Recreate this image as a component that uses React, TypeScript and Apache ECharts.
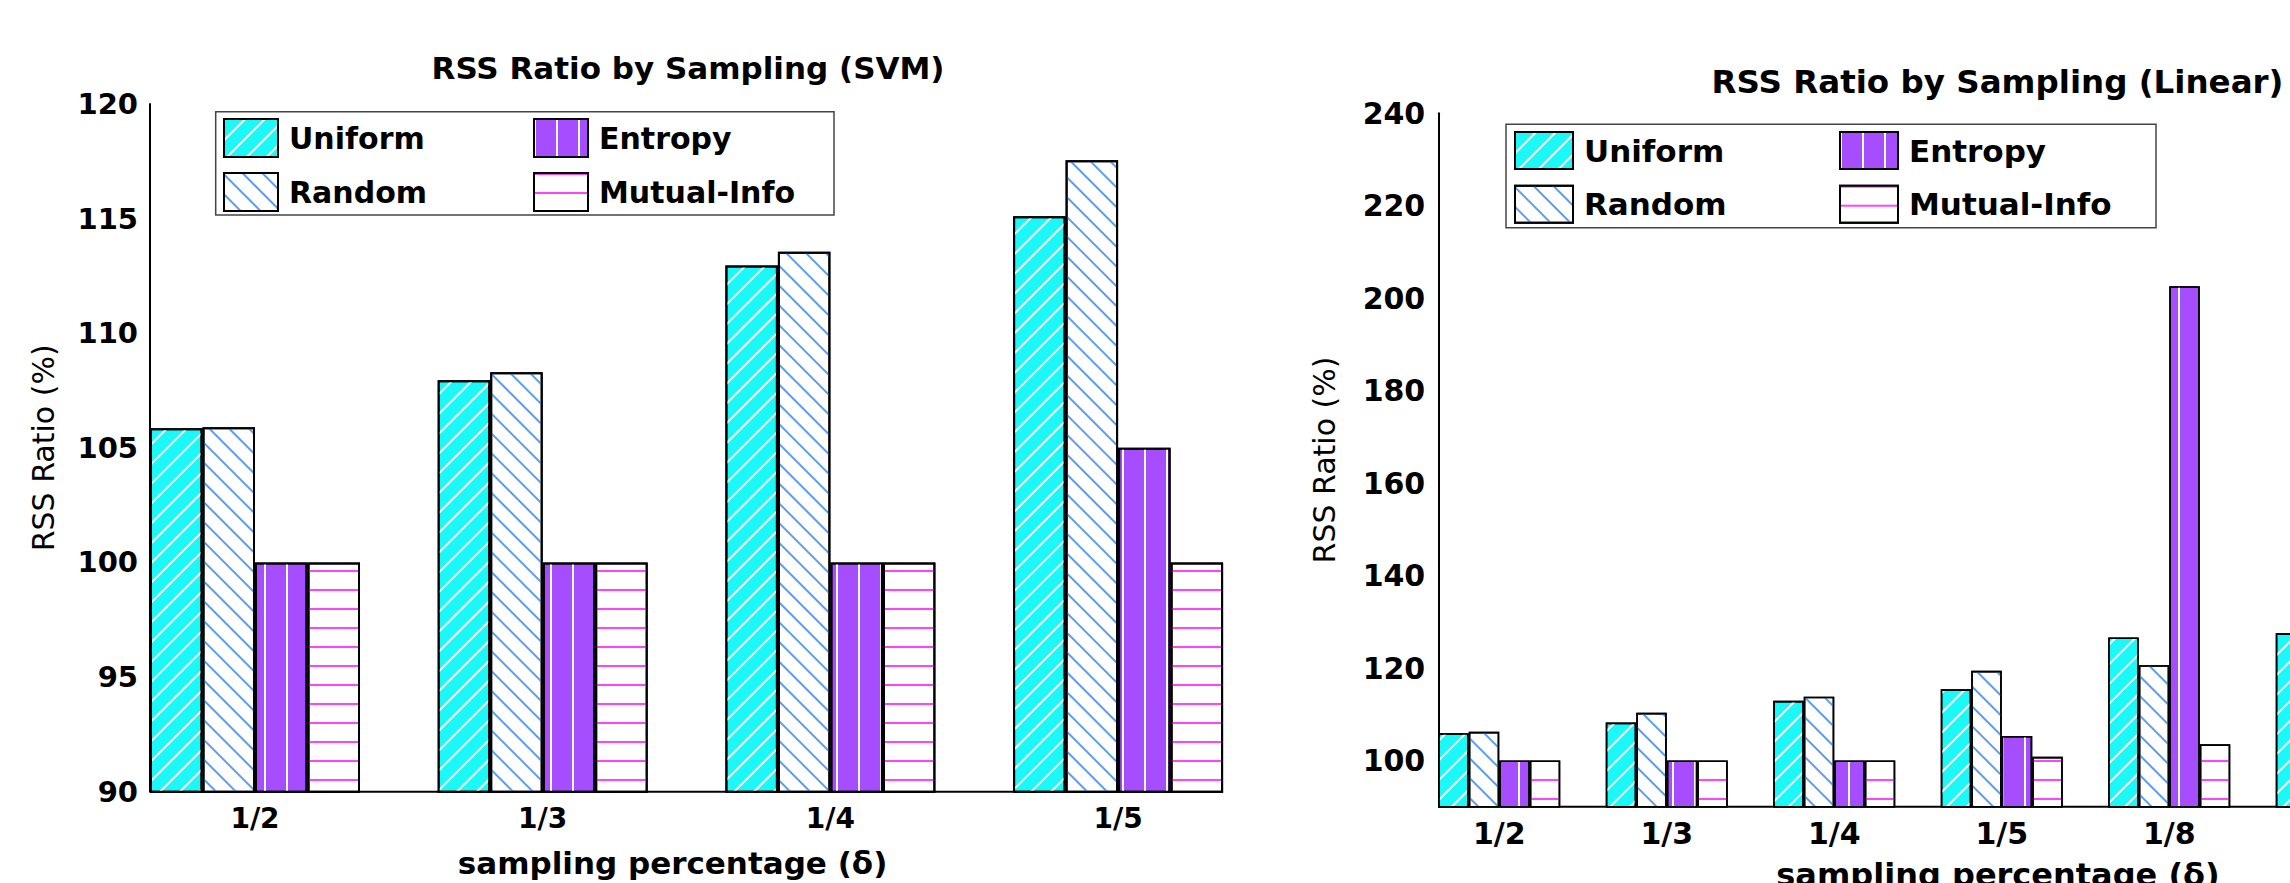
import React, { useEffect, useRef } from 'react';
import * as echarts from 'echarts';

// ---------- data ----------
const svmCategories = ['1/2', '1/3', '1/4', '1/5'];
const svmUniform = [105.85, 107.95, 112.95, 115.1];
const svmRandom = [105.9, 108.3, 113.55, 117.55];
const svmEntropy = [100, 100, 100, 105];
const svmMutualInfo = [100, 100, 100, 100];
const svmYTickLabels = [90, 95, 100, 105, 110, 115, 120];

const linCategories = ['1/2', '1/3', '1/4', '1/5', '1/8', ' '];
const linUniform = [105.9, 108.2, 112.9, 115.4, 126.6, 127.5];
const linRandom = [106.2, 110.3, 113.8, 119.4, 120.6, null];
const linEntropy = [100, 100, 100, 105.3, 202.6, null];
const linMutualInfo = [100, 100, 100, 100.8, 103.5, null];
const linYTickLabels = [100, 120, 140, 160, 180, 200, 220, 240];

const seriesNames = ['Uniform', 'Random', 'Entropy', 'Mutual-Info'];
const legendColumn1 = ['Uniform', 'Random'];
const legendColumn2 = ['Entropy', 'Mutual-Info'];
const titles = ['RSS Ratio by Sampling (SVM)', 'RSS Ratio by Sampling (Linear)'];
const xName = 'sampling percentage (δ)';
const yName = 'RSS Ratio (%)';

// ---------- styles ----------
const FONT = '"DejaVu Sans", "Liberation Sans", sans-serif';

const seriesStyle: Record<string, any> = {
  Uniform: {
    color: '#1CF8F8',
    decal: { symbol: 'rect', symbolSize: 1, symbolKeepAspect: false, color: '#FFFFFF', dashArrayX: [[10, 0]], dashArrayY: [2, 12], rotation: -Math.PI / 4 },
  },
  Random: {
    color: '#FFFFFF',
    decal: { symbol: 'rect', symbolSize: 1, symbolKeepAspect: false, color: '#5C9DF0', dashArrayX: [[10, 0]], dashArrayY: [2, 12], rotation: Math.PI / 4 },
  },
  Entropy: {
    color: '#A64DFF',
    decal: { symbol: 'rect', symbolSize: 1, symbolKeepAspect: false, color: '#FFFFFF', dashArrayX: [[2, 20]], dashArrayY: [10, 0], rotation: 0 },
  },
  'Mutual-Info': {
    color: '#FFFFFF',
    decal: { symbol: 'rect', symbolSize: 1, symbolKeepAspect: false, color: '#FF44FF', dashArrayX: [[10, 0]], dashArrayY: [2, 17], rotation: 0 },
  },
};

function makeBars(datas: any[][], idx: number, barWidth: number, borderWidth: number) {
  return seriesNames.map((name, i) => ({
    type: 'bar',
    name,
    xAxisIndex: idx,
    yAxisIndex: idx,
    data: datas[i],
    barWidth,
    barGap: '0%',
    clip: true,
    z: 2,
    itemStyle: {
      color: seriesStyle[name].color,
      decal: seriesStyle[name].decal,
      borderColor: '#000',
      borderWidth,
    },
    emphasis: { disabled: true },
  }));
}

function makeBaseline(idx: number, cats: string[], yMin: number, barWidth: number) {
  return {
    type: 'custom',
    xAxisIndex: idx,
    yAxisIndex: idx,
    z: 1,
    silent: true,
    data: [[0, yMin]],
    encode: { x: 0, y: 1 },
    renderItem: (params: any, api: any) => {
      const a = api.coord([0, yMin]);
      const b = api.coord([cats.length - 1, yMin]);
      const half = barWidth * 2;
      return {
        type: 'line',
        shape: { x1: a[0] - half, y1: a[1], x2: b[0] + half, y2: b[1] },
        style: { stroke: '#000', lineWidth: 2 },
      };
    },
  };
}

function makeLegend(names: string[], left: number, top: number, iw: number, ih: number, gap: number, fontSize: number) {
  return {
    data: names,
    left,
    top,
    orient: 'vertical',
    icon: 'rect',
    itemWidth: iw,
    itemHeight: ih,
    itemGap: gap,
    padding: 0,
    z: 6,
    selectedMode: false,
    textStyle: { fontFamily: FONT, fontWeight: 'bold', fontSize, color: '#000', padding: [0, 0, 0, 6] },
  };
}

const LEFT_BW = 52.5;
const RIGHT_BW = 30.5;

function buildOption(): any {
  return {
    animation: false,
    backgroundColor: '#FFFFFF',
    textStyle: { fontFamily: FONT },
    grid: [
      { left: 111.15, top: 104, width: 1150.8, height: 687.7, outerBoundsMode: 'none', containLabel: false },
      { left: 1415.5, top: 113.3, width: 1005, height: 693.4, outerBoundsMode: 'none', containLabel: false },
    ],
    xAxis: [
      {
        type: 'category',
        gridIndex: 0,
        data: svmCategories,
        axisLine: { show: false },
        axisTick: { show: false },
        splitLine: { show: false },
        axisLabel: { fontFamily: FONT, fontWeight: 'bold', fontSize: 28, color: '#000', margin: 13, interval: 0 },
        name: xName,
        nameLocation: 'middle',
        nameGap: 56,
        nameTextStyle: { fontFamily: FONT, fontWeight: 'bold', fontSize: 31, color: '#000', padding: [0, 28, 0, 0] },
      },
      {
        type: 'category',
        gridIndex: 1,
        data: linCategories,
        axisLine: { show: false },
        axisTick: { show: false },
        splitLine: { show: false },
        axisLabel: { fontFamily: FONT, fontWeight: 'bold', fontSize: 30, color: '#000', margin: 12, interval: 0 },
        name: xName,
        nameLocation: 'middle',
        nameGap: 52,
        nameTextStyle: { fontFamily: FONT, fontWeight: 'bold', fontSize: 32, color: '#000', padding: [0, 0, 0, 160] },
      },
    ],
    yAxis: [
      {
        type: 'value',
        gridIndex: 0,
        min: svmYTickLabels[0],
        max: svmYTickLabels[svmYTickLabels.length - 1],
        interval: 5,
        offset: -38.85,
        axisLine: { show: true, lineStyle: { color: '#000', width: 2 } },
        axisTick: { show: false },
        splitLine: { show: false },
        axisLabel: {
          fontFamily: FONT, fontWeight: 'bold', fontSize: 29, color: '#000', margin: 12,
          formatter: (v: number) => (svmYTickLabels.includes(v) ? String(v) : ''),
        },
        name: yName,
        nameLocation: 'middle',
        nameGap: 92,
        nameRotate: 90,
        nameTextStyle: { fontFamily: FONT, fontSize: 30, color: '#000' },
      },
      {
        type: 'value',
        gridIndex: 1,
        min: 90,
        max: linYTickLabels[linYTickLabels.length - 1],
        interval: 10,
        offset: -22.75,
        axisLine: { show: true, lineStyle: { color: '#000', width: 2 } },
        axisTick: { show: false },
        splitLine: { show: false },
        axisLabel: {
          fontFamily: FONT, fontWeight: 'bold', fontSize: 30, color: '#000', margin: 13,
          formatter: (v: number) => (linYTickLabels.includes(v) ? String(v) : ''),
        },
        name: yName,
        nameLocation: 'middle',
        nameGap: 99,
        nameRotate: 90,
        nameTextStyle: { fontFamily: FONT, fontSize: 30, color: '#000' },
      },
    ],
    legend: [
      makeLegend(legendColumn1, 223, 118, 54, 38, 14, 30),
      makeLegend(legendColumn2, 533, 118, 54, 38, 14, 30),
      makeLegend(legendColumn1, 1514, 131, 58, 37, 14.7, 31),
      makeLegend(legendColumn2, 1839, 131, 58, 37, 14.7, 31),
    ],
    graphic: [
      {
        type: 'rect',
        z: 5,
        silent: true,
        shape: { x: 215.7, y: 111.7, width: 618.3, height: 103.3 },
        style: { fill: '#FFFFFF', stroke: '#444', lineWidth: 1.5 },
      },
      {
        type: 'rect',
        z: 5,
        silent: true,
        shape: { x: 1506, y: 124.3, width: 650, height: 103.4 },
        style: { fill: '#FFFFFF', stroke: '#444', lineWidth: 1.5 },
      },
      {
        type: 'text',
        x: 688,
        y: 68,
        silent: true,
        style: { text: titles[0], fontFamily: FONT, fontWeight: 'bold', fontSize: 31, fill: '#000', align: 'center', verticalAlign: 'middle' },
      },
      {
        type: 'text',
        x: 1997.5,
        y: 82,
        silent: true,
        style: { text: titles[1], fontFamily: FONT, fontWeight: 'bold', fontSize: 32.5, fill: '#000', align: 'center', verticalAlign: 'middle' },
      },
    ],
    series: [
      makeBaseline(0, svmCategories, 90, LEFT_BW),
      ...makeBars([svmUniform, svmRandom, svmEntropy, svmMutualInfo], 0, LEFT_BW, 2),
      makeBaseline(1, linCategories, 90, RIGHT_BW),
      ...makeBars([linUniform, linRandom, linEntropy, linMutualInfo], 1, RIGHT_BW, 1.6),
    ],
  };
}

export default function App() {
  const ref = useRef<HTMLDivElement>(null);
  useEffect(() => {
    if (!ref.current) return;
    const chart = echarts.init(ref.current, undefined, { renderer: 'svg', width: 2290, height: 883 });
    chart.setOption(buildOption());
    return () => chart.dispose();
  }, []);
  return (
    <div
      ref={ref}
      style={{ position: 'absolute', left: 0, top: 0, width: 2290, height: 883, background: '#fff' }}
    />
  );
}
